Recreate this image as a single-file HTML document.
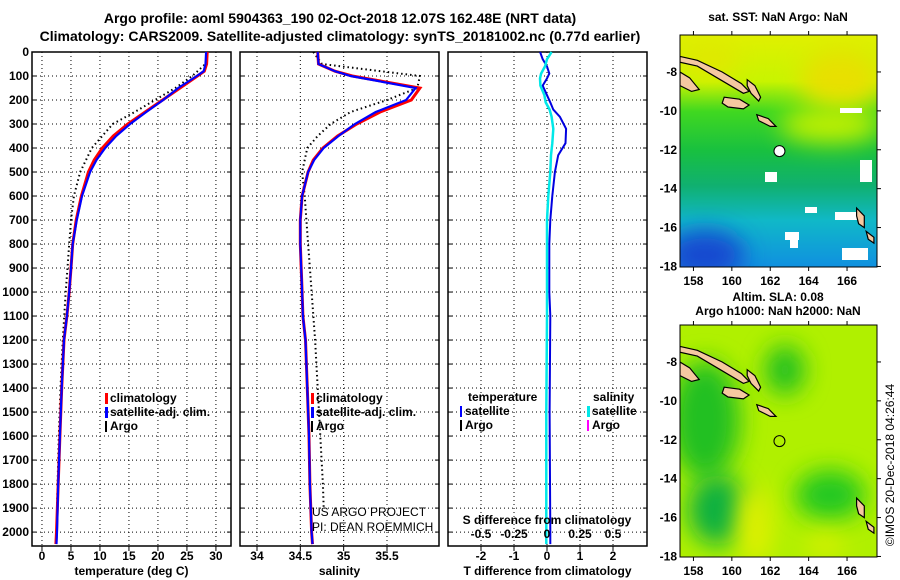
<!DOCTYPE html>
<html><head><meta charset="utf-8">
<style>
body{margin:0;background:#fff;}
svg{display:block;font-family:"Liberation Sans",Arial,sans-serif;}
.b{font-weight:bold;}
</style></head>
<body>
<svg id="fig" width="900" height="580" viewBox="0 0 900 580">
<defs>
<linearGradient id="sstg" x1="0" y1="0" x2="0" y2="1">
<stop offset="0" stop-color="#e0f000"/><stop offset="0.2" stop-color="#c8f400"/>
<stop offset="0.33" stop-color="#40d820"/><stop offset="0.5" stop-color="#18c040"/>
<stop offset="0.65" stop-color="#10b070"/><stop offset="0.8" stop-color="#10b8c8"/>
<stop offset="1" stop-color="#1090e0"/></linearGradient>
<filter id="blur" x="-100%" y="-100%" width="300%" height="300%"><feGaussianBlur stdDeviation="12"/></filter>
<clipPath id="m1c"><rect x="680" y="35" width="197" height="232"/></clipPath>
<clipPath id="m2c"><rect x="680" y="325" width="197" height="232"/></clipPath>
</defs>
<text class="b" x="340" y="23" text-anchor="middle" font-size="14">Argo profile: aoml 5904363_190 02-Oct-2018 12.07S 162.48E (NRT data)</text>
<text class="b" x="340" y="41" text-anchor="middle" font-size="14">Climatology: CARS2009. Satellite-adjusted climatology: synTS_20181002.nc (0.77d earlier)</text>
<g id="charts"></g>
<g id="maps"></g>
<text x="894" y="465" font-size="12" text-anchor="middle" transform="rotate(-90 894 465)">©IMOS 20-Dec-2018 04:26:44</text>
</svg>
<script>
// ---- data ----
const depthTicks=[0,100,200,300,400,500,600,700,800,900,1000,1100,1200,1300,1400,1500,1600,1700,1800,1900,2000];
const tempTicks=[0,5,10,15,20,25,30];
const salTicks=[34,34.5,35,35.5];
const salTickLabels=["34","34.5","35","35.5"];
const tdiffTicks=[-2,-1,0,1,2];
const sdiffTicks=[-0.5,-0.25,0,0.25,0.5];
const sdiffTickLabels=["-0.5","-0.25","0","0.25","0.5"];
const profDepth=[0,50,80,100,150,200,250,300,350,400,450,500,600,700,800,900,1000,1100,1200,1400,1600,1800,2000,2050];
const tempSat=[28.3,28.2,27.9,26.7,23.5,20.9,18,15.2,12.8,10.9,9.4,8.3,6.9,6.0,5.3,5.0,4.7,4.3,3.8,3.4,3.1,2.8,2.6,2.5];
const tempClim=[28.5,28.4,28.0,26.8,23.8,20.8,17.8,14.8,12.3,10.4,9.0,8.0,6.8,5.9,5.3,5.0,4.7,4.3,3.8,3.4,3.1,2.8,2.5,2.4];
const argoDepth=[0,50,100,150,200,250,300,350,400,500,600,700,800,900,1000,1200,1400,1600,1800,1900];
const tempArgo=[28.5,28.2,25.9,23,19.5,16,12.2,10.4,8.6,6.6,5.5,5.0,4.7,4.4,4.1,3.6,3.2,2.9,2.7,2.6];
const salSat=[34.70,34.71,34.9,35.08,35.83,35.72,35.37,35.13,34.94,34.77,34.66,34.59,34.52,34.50,34.50,34.51,34.52,34.53,34.56,34.58,34.60,34.61,34.63,34.64];
const salClim=[34.70,34.71,34.9,35.1,35.88,35.78,35.42,35.15,34.93,34.76,34.65,34.59,34.52,34.50,34.50,34.51,34.52,34.53,34.56,34.58,34.60,34.61,34.63,34.64];
const salArgo=[34.65,34.75,35.88,35.85,35.5,35.08,34.85,34.7,34.58,34.52,34.55,34.57,34.59,34.61,34.63,34.67,34.70,34.73,34.76,34.77];
const diffDepth=[0,30,60,90,110,140,180,210,240,270,320,380,430,500,600,700,800,1000,1100,1500,2000,2050];
const tDiffSat=[-0.21,-0.13,0,0.07,0,-0.13,0,0.1,0.19,0.39,0.58,0.56,0.34,0.24,0.16,0.1,0.07,0.07,0.1,0.08,0.1,0.1];
const sDiffSat=[0.035,0.0,-0.015,-0.045,-0.053,-0.05,-0.02,-0.01,0.02,0.035,0.048,0.04,0.03,0.025,0.01,0.0,0,0,0,-0.005,-0.005,-0.005];

const NS="http://www.w3.org/2000/svg";
const root=document.getElementById('charts');
function el(tag,attrs,parent,txt){const e=document.createElementNS(NS,tag);for(const k in attrs)e.setAttribute(k,attrs[k]);if(txt!==undefined)e.textContent=txt;(parent||root).appendChild(e);return e;}
const TOP=52,BOT=546,DMAX=2058;
const yD=d=>TOP+d*(BOT-TOP)/DMAX;

function panel(name,x0,x1,xmin,xmax,ticks,labels,title){
  const g=el('g',{});
  
  
  const sx=v=>x0+(v-xmin)/(xmax-xmin)*(x1-x0);
  depthTicks.forEach(d=>{
    const l=el('line',{x1:x0,x2:x1,y1:yD(d),y2:yD(d),stroke:'#000','stroke-width':1,'stroke-dasharray':'1 3'},g);
    
    el('line',{x1:x0,x2:x0+4,y1:yD(d),y2:yD(d),stroke:'#000'},g);
    el('line',{x1:x1-4,x2:x1,y1:yD(d),y2:yD(d),stroke:'#000'},g);
  });
  ticks.forEach((t,i)=>{
    const x=sx(t);
    el('line',{x1:x,x2:x,y1:TOP,y2:BOT,stroke:'#000','stroke-dasharray':'1 3'},g);
    el('line',{x1:x,x2:x,y1:BOT,y2:BOT+5,stroke:'#000'},g);
    const tx=el('text',{x:x,y:BOT+14,'text-anchor':'middle','font-size':12,class:'b'},g,labels?labels[i]:String(t));
    
  });
  const fr=el('rect',{x:x0,y:TOP,width:x1-x0,height:BOT-TOP,fill:'none',stroke:'#000','stroke-width':1.5},g);
  
  const at=el('text',{x:(x0+x1)/2,y:575,'text-anchor':'middle','font-size':12,class:'b'},g,title);
  
  return {g,sx};
}
function line(p,vals,depths,color,w,dash,name){
  const pts=vals.map((v,i)=>p.sx(v).toFixed(1)+','+yD(depths[i]).toFixed(1)).join(' ');
  const pl=el('polyline',{points:pts,fill:'none',stroke:color,'stroke-width':w,'stroke-dasharray':dash||'none'},p.g);
  
}
function legend(g,x,y,items){
  items.forEach((it,i)=>{
    el('rect',{x:x,y:y+i*14-9,width:it[2]||2,height:11,fill:it[1]},g);
    const t=el('text',{x:x+5,y:y+i*14,'font-size':12,class:'b'},g,it[0]);
    
  });
}
depthTicks.forEach(d=>{
  const t=el('text',{x:29,y:yD(d)+4,'text-anchor':'end','font-size':12,class:'b'},root,String(d));
  
});
const p1=panel('temperature-panel',32,231,-1.72,32.6,tempTicks,null,'temperature (deg C)');
line(p1,tempArgo,argoDepth,'#000',2,'1.5 3','argo-temperature');
line(p1,tempClim,profDepth,'#f00',3,null,'climatology-temperature');
line(p1,tempSat,profDepth,'#00f',2.2,null,'satellite-temperature');
legend(p1.g,105,402,[['climatology','#f00',3],['satellite-adj. clim.','#00f',3],['Argo','#000',2]]);
const p2=panel('salinity-panel',240,439,33.804,36.1,salTicks,salTickLabels,'salinity');
line(p2,salArgo,argoDepth,'#000',2,'1.5 3','argo-salinity');
line(p2,salClim,profDepth,'#f00',3,null,'climatology-salinity');
line(p2,salSat,profDepth,'#00f',2.2,null,'satellite-salinity');
legend(p2.g,311,402,[['climatology','#f00',3],['satellite-adj. clim.','#00f',3],['Argo','#000',2]]);
el('text',{x:312,y:516,'font-size':12},p2.g,'US ARGO PROJECT');
el('text',{x:312,y:531,'font-size':12},p2.g,'PI: DEAN ROEMMICH');
const p3=panel('difference-panel',448,647,-3,3.03,tdiffTicks,null,'T difference from climatology');
line(p3,tDiffSat,diffDepth,'#0000e0',2,null,'temperature-diff-satellite');
line(p3,sDiffSat.map(v=>v*4),diffDepth,'#00e8e8',2.5,null,'salinity-diff-satellite');
el('text',{x:468,y:401,'font-size':12,class:'b'},p3.g,'temperature');
el('text',{x:593,y:401,'font-size':12,class:'b'},p3.g,'salinity');
legend(p3.g,460,415,[['satellite','#00f',2],['Argo','#000',2]]);
legend(p3.g,587,415,[['satellite','#00e8e8',3],['Argo','#f0f',2]]);
el('text',{x:547,y:524,'text-anchor':'middle','font-size':12,class:'b'},p3.g,'S difference from climatology');
sdiffTicks.forEach((s,i)=>{
  const t=el('text',{x:p3.sx(s*4),y:538,'text-anchor':'middle','font-size':12,class:'b'},p3.g,sdiffTickLabels[i]);
  
});

// ---- maps ----
const maps=document.getElementById('maps');
const lonTicks=[158,160,162,164,166];
const latTicks=[-8,-10,-12,-14,-16,-18];
function mapFrame(name,y0,title1,title2,fill){
  const g=el('g',{},maps);
  
  const sx=l=>680+(l-157.3)*19.2, sy=la=>y0+(-6.1-la)*19.45;
  const inner=el('g',{'clip-path':'url(#'+(y0<100?'m1c':'m2c')+')'},g);
  fill(inner,sx,sy);
  const land=[
    [[157.3,-7.2],[158.2,-7.4],[159.5,-8.0],[160.5,-8.6],[160.9,-9.0],[160.6,-9.1],[159.4,-8.4],[158.2,-7.7],[157.3,-7.5]],
    [[157.3,-8.0],[157.8,-8.3],[158.3,-8.9],[157.9,-9.0],[157.3,-8.7]],
    [[159.6,-9.3],[160.4,-9.4],[160.9,-9.7],[160.6,-9.9],[159.8,-9.8],[159.5,-9.6]],
    [[160.8,-8.4],[161.2,-8.7],[161.5,-9.3],[161.4,-9.5],[161.0,-9.1],[160.8,-8.7]],
    [[161.3,-10.2],[161.9,-10.4],[162.3,-10.8],[162.0,-10.8],[161.4,-10.5]],
    [[166.5,-15.0],[166.9,-15.4],[166.9,-16.0],[166.6,-15.8],[166.5,-15.4]],
    [[167.0,-16.2],[167.4,-16.5],[167.4,-16.8],[167.1,-16.6]]];
  land.forEach(p=>{
    const pg=el('polygon',{points:p.map(q=>sx(q[0]).toFixed(1)+','+sy(q[1]).toFixed(1)).join(' '),fill:'#f5c8a0',stroke:'#000','stroke-width':1.2},inner);
    
  });
  const c=el('circle',{cx:sx(162.48),cy:sy(-12.07),r:5.5,fill:y0<100?'#fff':'none',stroke:'#000','stroke-width':1},g);
  
  el('rect',{x:680,y:y0,width:197,height:232,fill:'none',stroke:'#000','stroke-width':1},g);
  lonTicks.forEach(l=>{
    el('line',{x1:sx(l),x2:sx(l),y1:y0+232,y2:y0+236,stroke:'#000'},g);
    el('line',{x1:sx(l),x2:sx(l),y1:y0,y2:y0-4,stroke:'#000'},g);
    el('text',{x:sx(l),y:y0+250,'text-anchor':'middle','font-size':12,class:'b'},g,String(l));
  });
  latTicks.forEach(la=>{
    el('line',{x1:877,x2:881,y1:sy(la),y2:sy(la),stroke:'#000'},g);
    el('text',{x:677,y:sy(la)+4,'text-anchor':'end','font-size':12,class:'b'},g,String(la));
  });
  el('text',{x:778,y:title2?y0-24:y0-14,'text-anchor':'middle','font-size':12,class:'b'},g,title1);
  if(title2) el('text',{x:778,y:y0-10,'text-anchor':'middle','font-size':12,class:'b'},g,title2);
}
mapFrame('sst-map',35,'sat. SST: NaN Argo: NaN',null,(g,sx,sy)=>{
  el('rect',{x:680,y:35,width:197,height:232,fill:'url(#sstg)'},g);
  el('ellipse',{cx:705,cy:255,rx:40,ry:25,fill:'#1848d0',filter:'url(#blur)'},g);
  el('ellipse',{cx:840,cy:80,rx:40,ry:30,fill:'#e8e000',filter:'url(#blur)'},g);
  el('ellipse',{cx:830,cy:125,rx:50,ry:18,fill:'#c0f000',filter:'url(#blur)'},g);
  el('ellipse',{cx:710,cy:60,rx:30,ry:18,fill:'#e0e800',filter:'url(#blur)'},g);
  [[765,172,12,10],[835,212,25,8],[805,207,12,6],[860,160,12,22],[840,108,22,5],[842,248,26,12],[785,232,14,8],[790,240,8,8]].forEach(r=>el('rect',{x:r[0],y:r[1],width:r[2],height:r[3],fill:'#fff'},g));
});
mapFrame('sla-map',325,'Altim. SLA: 0.08','Argo h1000: NaN h2000: NaN',(g,sx,sy)=>{
  el('rect',{x:680,y:325,width:197,height:232,fill:'#b0f000'},g);
  el('ellipse',{cx:705,cy:420,rx:35,ry:60,fill:'#20c020',filter:'url(#blur)'},g);
  el('ellipse',{cx:785,cy:370,rx:20,ry:25,fill:'#20c020',filter:'url(#blur)'},g);
  el('ellipse',{cx:718,cy:510,rx:30,ry:35,fill:'#10b040',filter:'url(#blur)'},g);
  el('ellipse',{cx:830,cy:495,rx:35,ry:25,fill:'#20c820',filter:'url(#blur)'},g);
  el('ellipse',{cx:755,cy:525,rx:18,ry:40,fill:'#e0f000',filter:'url(#blur)'},g);
  el('ellipse',{cx:825,cy:545,rx:20,ry:12,fill:'#d8f000',filter:'url(#blur)'},g);
});
</script>
</body></html>
